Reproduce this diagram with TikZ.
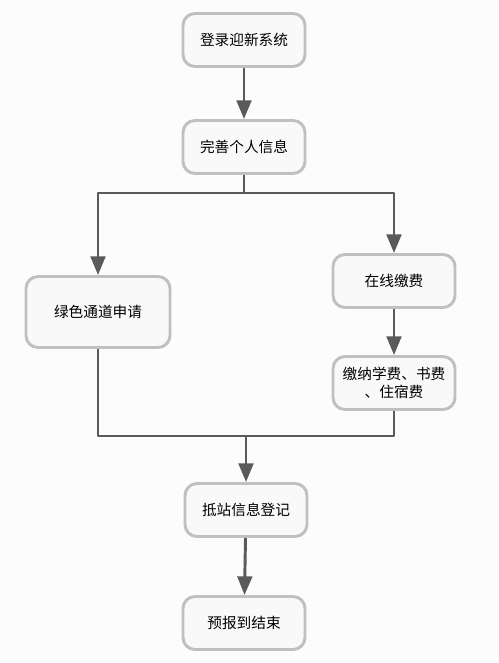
\documentclass[tikz,border=0pt]{standalone}
\usepackage{fontspec}
\newfontfamily\cjk{Noto Sans CJK SC}
\usetikzlibrary{arrows.meta}
\definecolor{boxline}{RGB}{192,192,192}
\definecolor{boxfill}{RGB}{249,249,249}
\definecolor{arrline}{RGB}{90,90,90}
\definecolor{paper}{RGB}{252,252,252}
\begin{document}
\begin{tikzpicture}[x=0.75pt, y=-0.75pt, font=\cjk\fontsize{11}{14}\selectfont, line join=round, >={Triangle[length=14pt,width=11pt]},
	stepbox/.style={draw=boxline, fill=boxfill, line width=2.2pt, rounded corners=9pt, minimum width=91.5pt, minimum height=39.75pt, inner sep=2pt, align=center},
	flow/.style={draw=arrline, line width=2.2pt}]
	\fill[paper] (0,0) rectangle (499,663);
	\useasboundingbox (0,0) rectangle (499,663);
	\node[stepbox] (login) at (244,40) {登录迎新系统};
	\node[stepbox] (info) at (244,147) {完善个人信息};
	\node[stepbox, minimum width=108pt, minimum height=53.25pt] (green) at (98,312) {绿色通道申请};
	\node[stepbox] (pay) at (394,281) {在线缴费};
	\node[stepbox] (fee) at (394,383) {缴纳学费、书费\\、住宿费};
	\node[stepbox] (reg) at (246,510) {抵站信息登记};
	\node[stepbox] (done) at (244,623) {预报到结束};
	\coordinate (split) at (244,193);
	\coordinate (merge) at (246,436);
	\draw[flow,->] (login) -- (info);
	\draw[flow] (info) -- (split);
	\draw[flow,->] (split) -| (green);
	\draw[flow,->] (split) -| (pay);
	\draw[flow,->] (pay) -- (fee);
	\draw[flow] (green) |- (merge);
	\draw[flow] (fee) |- (merge);
	\draw[flow,->] (merge) -- (reg);
	\draw[flow,->] (reg) -- (done);
\end{tikzpicture}
\end{document}
